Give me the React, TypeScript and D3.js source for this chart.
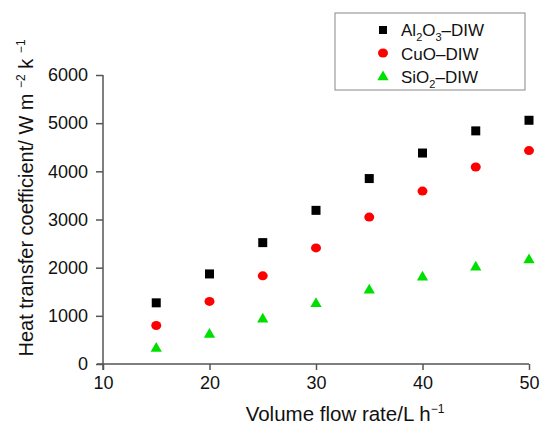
import React, { useEffect, useRef } from "react";
import * as d3 from "d3";

// flow rate (L/h)
const flowRates = [15, 20, 25, 30, 35, 40, 45, 50];
const al2o3Values = [1270, 1870, 2520, 3190, 3850, 4380, 4840, 5060];
const cuoValues = [800, 1300, 1830, 2410, 3050, 3590, 4090, 4430];
const sio2Values = [320, 610, 930, 1250, 1530, 1800, 2010, 2160];

const xTicks = [10, 20, 30, 40, 50];
const yTicks = [0, 1000, 2000, 3000, 4000, 5000, 6000];

const FONT = "'Liberation Sans', Arial, Helvetica, sans-serif";

const App = () => {
    const ref = useRef<SVGSVGElement>(null);

    useEffect(() => {
        const svg = d3.select(ref.current);
        svg.selectAll("*").remove();

        const width = 541;
        const height = 428;
        const x = d3.scaleLinear().domain([10, 50]).range([103, 529]);
        const y = d3.scaleLinear().domain([0, 6000]).range([364, 75]);
        const axisColor = "#555";

        svg.attr("width", width).attr("height", height).style("font-family", FONT);

        // === Axes ===
        const xAxis = svg.append("g").attr("transform", `translate(0,${y(0)})`)
            .call(d3.axisBottom(x).tickValues(xTicks).tickFormat(d3.format("d")).tickSize(6).tickSizeOuter(0).tickPadding(6));
        xAxis.select(".domain").attr("stroke", axisColor).attr("stroke-width", 1.5)
            .attr("d", `M${x(10) - 6},0H${x(50)}`);
        xAxis.selectAll(".tick line").attr("stroke", axisColor).attr("stroke-width", 1.5);
        xAxis.selectAll(".tick text").attr("fill", "#111").style("font-size", "18px").style("font-family", FONT);

        const yAxis = svg.append("g").attr("transform", `translate(${x(10)},0)`)
            .call(d3.axisLeft(y).tickValues(yTicks).tickFormat(d3.format("d")).tickSize(7).tickSizeOuter(0).tickPadding(8));
        yAxis.select(".domain").attr("stroke", axisColor).attr("stroke-width", 1.5)
            .attr("d", `M0,${y(0) + 6}V${y(6000)}`);
        yAxis.selectAll(".tick line").attr("stroke", axisColor).attr("stroke-width", 1.5);
        yAxis.selectAll(".tick text").attr("fill", "#111").style("font-size", "18px").style("font-family", FONT);

        // === Points ===
        svg.append("g").selectAll("rect")
            .data(flowRates.map((f, i) => [f, al2o3Values[i]]))
            .join("rect")
            .attr("x", d => x(d[0]) - 4.5)
            .attr("y", d => y(d[1]) - 4.5)
            .attr("width", 9)
            .attr("height", 9)
            .attr("fill", "#000");

        svg.append("g").selectAll("ellipse")
            .data(flowRates.map((f, i) => [f, cuoValues[i]]))
            .join("ellipse")
            .attr("cx", d => x(d[0]))
            .attr("cy", d => y(d[1]))
            .attr("rx", 5)
            .attr("ry", 4.5)
            .attr("fill", "#f00");

        const tri = d3.symbol().type(d3.symbolTriangle).size(55);
        svg.append("g").selectAll("path")
            .data(flowRates.map((f, i) => [f, sio2Values[i]]))
            .join("path")
            .attr("d", tri)
            .attr("transform", d => `translate(${x(d[0])},${y(d[1])})`)
            .attr("fill", "#00e000");

        // === Axis titles ===
        const xt = svg.append("text")
            .attr("x", 345).attr("y", 421)
            .attr("text-anchor", "middle")
            .attr("fill", "#111")
            .style("font-size", "20.5px");
        xt.append("tspan").text("Volume flow rate/L h");
        xt.append("tspan").attr("dy", -8).style("font-size", "12px").text("\u22121");

        const yt = svg.append("text")
            .attr("transform", "translate(33,198) rotate(-90)")
            .attr("text-anchor", "middle")
            .attr("fill", "#111")
            .style("font-size", "20px");
        yt.append("tspan").text("Heat transfer coefficient/ W m ");
        yt.append("tspan").attr("dy", -8).style("font-size", "12px").text("\u22122");
        yt.append("tspan").attr("dy", 8).text(" k ");
        yt.append("tspan").attr("dy", -8).style("font-size", "12px").text("\u22121");

        // === Legend ===
        const lg = svg.append("g");
        lg.append("rect")
            .attr("x", 335).attr("y", 13).attr("width", 190).attr("height", 77)
            .attr("fill", "#fff").attr("stroke", "#888").attr("stroke-width", 1);

        lg.append("rect").attr("x", 379).attr("y", 26).attr("width", 8).attr("height", 8).attr("fill", "#000");
        lg.append("ellipse").attr("cx", 383).attr("cy", 53).attr("rx", 5).attr("ry", 4.5).attr("fill", "#f00");
        lg.append("path").attr("d", tri).attr("transform", "translate(383,77)").attr("fill", "#00e000");

        const t1 = lg.append("text").attr("x", 401).attr("y", 36).style("font-size", "17px").attr("fill", "#111");
        t1.append("tspan").text("Al");
        t1.append("tspan").attr("dy", 5).style("font-size", "11px").text("2");
        t1.append("tspan").attr("dy", -5).text("O");
        t1.append("tspan").attr("dy", 5).style("font-size", "11px").text("3");
        t1.append("tspan").attr("dy", -5).text("\u2013DIW");

        lg.append("text").attr("x", 401).attr("y", 60).style("font-size", "17px").attr("fill", "#111")
            .text("CuO\u2013DIW");

        const t3 = lg.append("text").attr("x", 401).attr("y", 83).style("font-size", "17px").attr("fill", "#111");
        t3.append("tspan").text("SiO");
        t3.append("tspan").attr("dy", 5).style("font-size", "11px").text("2");
        t3.append("tspan").attr("dy", -5).text("\u2013DIW");
    }, []);

    return <svg ref={ref} style={{ display: "block", position: "absolute", left: 0, top: 0 }} />;
};

export default App;
